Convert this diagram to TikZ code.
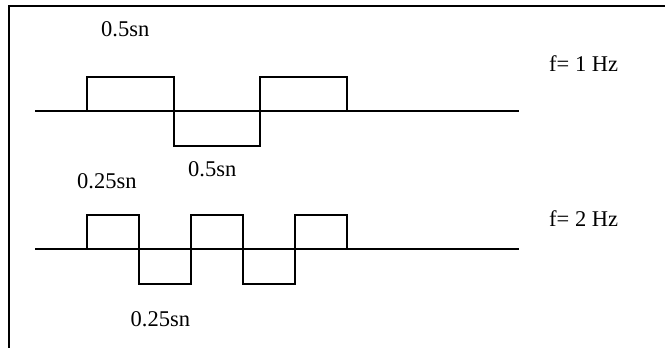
\documentclass[tikz,border=0pt]{standalone}
\usepackage{fontspec}
\setmainfont{Liberation Serif}
\begin{document}
\begin{tikzpicture}[x=1pt,y=-1pt,
  frame/.style={line width=1.6pt},
  wave/.style={line width=1.4pt},
  axisline/.style={line width=1.3pt},
  lbl/.style={anchor=base west,inner sep=0pt,font=\fontsize{22.5}{27}\selectfont}]
\useasboundingbox (0,0) rectangle (665,348);
\draw[frame] (665,6) -- (9,6) -- (9,348);
% wave 1
\draw[axisline] (35,111) -- (519,111);
\draw[wave] (87,111) -- (87,77) -- (174,77) -- (174,146) -- (260,146) -- (260,77) -- (347,77) -- (347,111);
% wave 2
\draw[axisline] (35,249) -- (519,249);
\draw[wave] (87,249) -- (87,215) -- (139,215) -- (139,284) -- (191,284) -- (191,215) -- (243,215) -- (243,284) -- (295,284) -- (295,215) -- (347,215) -- (347,249);
% labels
\node[lbl] (t1) at (101,36.7) {0.5sn};
\node[lbl] (f1) at (549,71.7) {f= 1 Hz};
\node[lbl] (t2) at (188,176) {0.5sn};
\node[lbl] (t3) at (77,188) {0.25sn};
\node[lbl] (f2) at (549,226) {f= 2 Hz};
\node[lbl] (t4) at (130.5,326) {0.25sn};
\end{tikzpicture}
\end{document}
